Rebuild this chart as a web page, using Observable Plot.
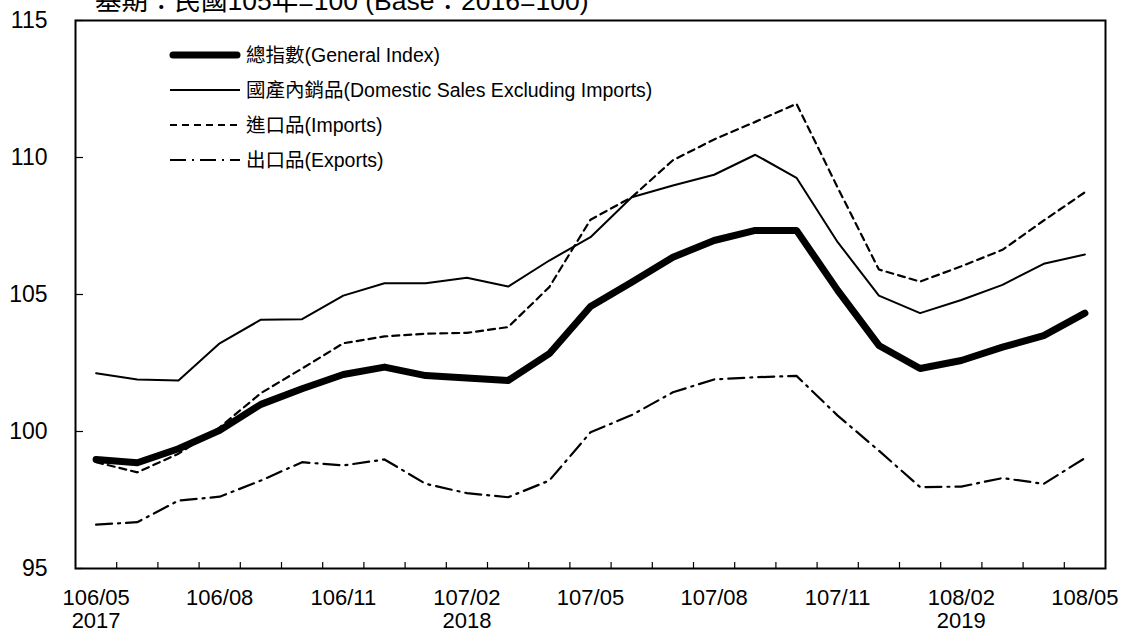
<!DOCTYPE html>
<html>
<head>
<meta charset="utf-8">
<script src="https://cdn.jsdelivr.net/npm/d3@7"></script>
<script src="https://cdn.jsdelivr.net/npm/@observablehq/plot@0.6"></script>
<style>
  html, body { margin: 0; padding: 0; background: #fff; }
  #chart { position: relative; width: 1123px; height: 632px; overflow: hidden; }
</style>
</head>
<body>
<div id="chart"></div>
<script>
const months = ["106/05","106/06","106/07","106/08","106/09","106/10","106/11","106/12",
  "107/01","107/02","107/03","107/04","107/05","107/06","107/07","107/08","107/09","107/10",
  "107/11","107/12","108/01","108/02","108/03","108/04","108/05"];
const yearLabels = {"106/05": "2017", "107/02": "2018", "108/02": "2019"};
const labelIdx = [0, 3, 6, 9, 12, 15, 18, 21, 24];
const yTicks = [95, 100, 105, 110, 115];

const general  = [98.98, 98.86, 99.37, 100.04, 100.99, 101.56, 102.08, 102.35, 102.04, 101.95, 101.86, 102.84,
  104.56, 105.45, 106.36, 106.97, 107.34, 107.34, 105.15, 103.14, 102.30, 102.59, 103.08, 103.50, 104.32];
const domestic = [102.13, 101.90, 101.86, 103.22, 104.08, 104.10, 104.96, 105.41, 105.41, 105.61, 105.29, 106.24,
  107.09, 108.55, 108.98, 109.37, 110.10, 109.26, 106.91, 104.96, 104.32, 104.80, 105.35, 106.12, 106.46];
const imports  = [98.88, 98.51, 99.19, 100.15, 101.40, 102.30, 103.22, 103.47, 103.57, 103.60, 103.81, 105.27,
  107.73, 108.55, 109.90, 110.66, 111.30, 111.96, 108.90, 105.91, 105.47, 106.03, 106.63, 107.70, 108.73];
const exportsS = [96.60, 96.69, 97.48, 97.62, 98.21, 98.88, 98.76, 98.98, 98.09, 97.75, 97.60, 98.21,
  99.97, 100.60, 101.43, 101.90, 101.98, 102.03, 100.58, 99.30, 97.97, 97.99, 98.30, 98.09, 99.03];

const seriesNames = ["總指數(General Index)", "國產內銷品(Domestic Sales Excluding Imports)", "進口品(Imports)", "出口品(Exports)"];
const titleText = "基期：民國105年=100 (Base：2016=100)";

const styles = [
  {strokeWidth: 7, strokeDasharray: null, strokeLinecap: "round"},
  {strokeWidth: 2, strokeDasharray: null, strokeLinecap: "butt"},
  {strokeWidth: 2.2, strokeDasharray: "7,5", strokeLinecap: "butt"},
  {strokeWidth: 2.2, strokeDasharray: "16,6,2,6", strokeLinecap: "butt"}
];

const idx = months.map((m, i) => i);
const boundaries = d3.range(1, months.length).map(k => k - 0.5);
const FONT = "'Liberation Sans', Arial, 'Noto Sans CJK TC', sans-serif";

const chart = Plot.plot({
  width: 1123,
  height: 632,
  marginLeft: 75,
  marginRight: 18,
  marginTop: 20,
  marginBottom: 64,
  style: {fontFamily: FONT, fontSize: "22px", background: "#fff", color: "#000"},
  x: {type: "linear", domain: [-0.5, months.length - 0.5]},
  y: {domain: [95, 115]},
  marks: [
    Plot.lineY(exportsS, {x: idx, y: exportsS, stroke: "#000", strokeWidth: styles[3].strokeWidth, strokeDasharray: styles[3].strokeDasharray}),
    Plot.lineY(imports, {x: idx, y: imports, stroke: "#000", strokeWidth: styles[2].strokeWidth, strokeDasharray: styles[2].strokeDasharray}),
    Plot.lineY(domestic, {x: idx, y: domestic, stroke: "#000", strokeWidth: styles[1].strokeWidth}),
    Plot.lineY(general, {x: idx, y: general, stroke: "#000", strokeWidth: styles[0].strokeWidth, strokeLinecap: "round", strokeLinejoin: "round"}),
    Plot.axisY({ticks: yTicks, tickSize: -8, tickPadding: 36, tickFormat: d => String(d), fontSize: 23, label: null, stroke: "#000", strokeWidth: 1.2}),
    Plot.axisX({ticks: boundaries, tickSize: -6, tickFormat: () => "", label: null, stroke: "#000", strokeWidth: 1.2}),
    Plot.axisX({ticks: labelIdx, tickSize: 0, tickPadding: 20, fontSize: 22, lineHeight: 1.04, label: null,
      tickFormat: i => yearLabels[months[i]] ? months[i] + "\n" + yearLabels[months[i]] : months[i]}),
    Plot.frame({stroke: "#000", strokeWidth: 2})
  ]
});

document.getElementById("chart").appendChild(chart);

const svg = d3.select(chart);
svg.style("overflow", "visible");

// Title (partially above the page top, as in the reference)
svg.append("text")
  .attr("x", 95).attr("y", 10)
  .attr("text-anchor", "start")
  .attr("font-size", 26.5)
  .attr("font-family", FONT)
  .attr("fill", "#000")
  .text(titleText);

// Legend
const lg = svg.append("g")
  .attr("font-family", FONT)
  .attr("font-size", 19.5)
  .attr("text-anchor", "start");
seriesNames.forEach((name, k) => {
  const yy = 55 + k * 35;
  lg.append("line")
    .attr("x1", k === 0 ? 173 : 170).attr("x2", k === 0 ? 237 : 240)
    .attr("y1", yy).attr("y2", yy)
    .attr("stroke", "#000")
    .attr("stroke-width", styles[k].strokeWidth)
    .attr("stroke-dasharray", styles[k].strokeDasharray)
    .attr("stroke-linecap", styles[k].strokeLinecap);
  lg.append("text")
    .attr("x", 246).attr("y", yy)
    .attr("dy", "0.35em")
    .attr("fill", "#000")
    .text(name);
});
</script>
</body>
</html>
